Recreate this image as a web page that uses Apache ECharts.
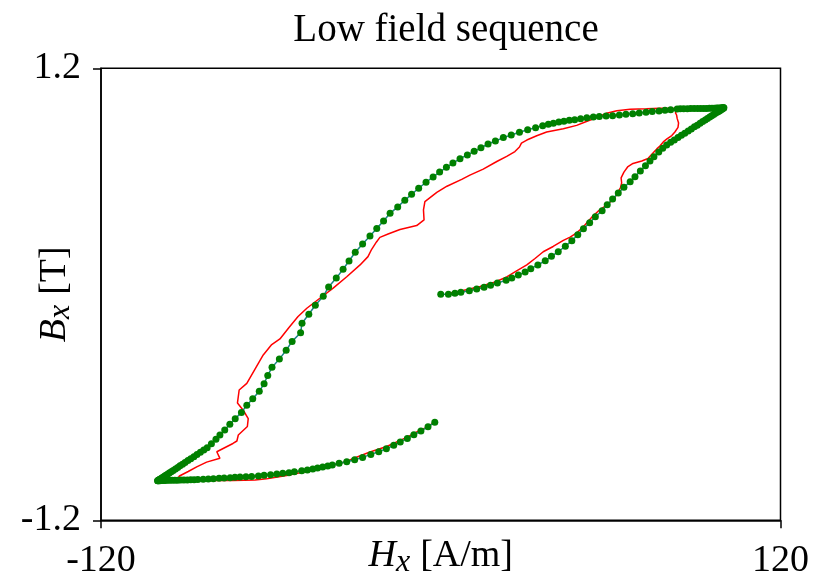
<!DOCTYPE html>
<html><head><meta charset="utf-8">
<script src="https://cdn.jsdelivr.net/npm/echarts@6/dist/echarts.min.js"></script>
<style>html,body{margin:0;padding:0;background:#fff}#c{width:815px;height:583px}</style>
</head><body><div id="c"></div>
<script>
// ---- data (H in A/m, B in T) ----
const titleText = 'Low field sequence';
const xTicks = [-120, 120];
const yTicks = [-1.2, 1.2];

// simulated (green markers): initial rise, upper descending branch, lower rising branch
const simRise = [[0,0.000],[2.7,0.000],[5.0,0.005],[7.1,0.011],[10.1,0.019],[12.7,0.028],[15.3,0.037],[17.6,0.048],[20.0,0.060],[23.1,0.074],[25.1,0.087],[27.4,0.102],[29.8,0.118],[31.8,0.136],[34.3,0.156],[36.9,0.178],[39.1,0.202],[41.5,0.226],[44.0,0.255],[46.3,0.285],[48.4,0.316],[50.4,0.348],[52.6,0.380],[54.6,0.412],[57.0,0.444],[58.8,0.476],[60.7,0.506],[62.7,0.538],[64.7,0.568],[66.9,0.598],[68.6,0.624],[70.5,0.655],[72.3,0.683],[73.9,0.708],[75.3,0.731],[77.0,0.756],[78.4,0.775],[79.8,0.793],[81.2,0.807],[82.5,0.819],[83.8,0.832],[85.0,0.844],[86.2,0.855],[87.4,0.867],[88.5,0.878],[89.6,0.889],[90.6,0.898],[91.6,0.908],[92.5,0.917],[93.4,0.926],[94.2,0.933],[95.0,0.941],[95.7,0.948],[96.4,0.955],[97.0,0.961],[97.6,0.967],[98.1,0.971],[98.5,0.975],[98.9,0.979],[99.3,0.983],[99.6,0.986],[99.8,0.988],[100.0,0.990]];
const simDown = [[99.9,0.990],[99.6,0.990],[99.2,0.990],[98.7,0.989],[98.1,0.989],[97.4,0.989],[96.6,0.988],[95.8,0.988],[94.9,0.988],[93.9,0.987],[92.9,0.987],[91.8,0.987],[90.7,0.986],[89.5,0.986],[88.3,0.986],[87.1,0.985],[85.8,0.985],[84.6,0.985],[83.5,0.984],[81.2,0.980],[79.2,0.977],[77.1,0.973],[74.7,0.970],[72.5,0.966],[70.1,0.963],[67.8,0.959],[65.4,0.956],[63.1,0.952],[60.7,0.948],[58.4,0.947],[56.0,0.944],[53.9,0.941],[51.6,0.938],[49.4,0.932],[47.3,0.927],[45.4,0.924],[43.5,0.919],[41.7,0.915],[39.8,0.908],[38.0,0.903],[36.0,0.895],[33.5,0.885],[30.7,0.874],[27.8,0.860],[24.9,0.846],[22.1,0.832],[19.3,0.814],[16.7,0.798],[14.2,0.778],[11.8,0.759],[9.4,0.740],[6.8,0.720],[4.3,0.697],[2.0,0.674],[-0.4,0.649],[-2.7,0.623],[-5.2,0.595],[-7.8,0.563],[-10.3,0.531],[-12.7,0.499],[-15.2,0.464],[-17.9,0.430],[-20.2,0.389],[-22.6,0.350],[-25.0,0.310],[-27.6,0.267],[-30.2,0.223],[-32.4,0.177],[-34.5,0.133],[-36.9,0.086],[-39.6,0.039],[-41.5,-0.011],[-44.3,-0.058],[-46.6,-0.106],[-49.0,-0.154],[-49.5,-0.204],[-52.5,-0.250],[-54.6,-0.297],[-57.0,-0.344],[-59.6,-0.388],[-61.1,-0.431],[-62.4,-0.475],[-64.1,-0.515],[-66.4,-0.554],[-68.5,-0.589],[-70.4,-0.627],[-72.6,-0.661],[-74.5,-0.690],[-76.3,-0.721],[-78.0,-0.747],[-79.4,-0.770],[-81.0,-0.793],[-82.5,-0.815],[-83.7,-0.827],[-84.9,-0.839],[-86.1,-0.851],[-87.2,-0.862],[-88.3,-0.873],[-89.3,-0.883],[-90.3,-0.893],[-91.2,-0.902],[-92.1,-0.911],[-92.9,-0.919],[-93.7,-0.927],[-94.5,-0.935],[-95.2,-0.942],[-95.9,-0.949],[-96.5,-0.955],[-97.1,-0.961],[-97.6,-0.966],[-98.1,-0.971],[-98.5,-0.975],[-98.9,-0.979],[-99.2,-0.982],[-99.5,-0.985],[-99.7,-0.987],[-99.9,-0.989],[-100.0,-0.990]];
const simUp = [[-99.9,-0.990],[-99.6,-0.990],[-99.2,-0.990],[-98.7,-0.989],[-98.1,-0.989],[-97.4,-0.989],[-96.6,-0.988],[-95.8,-0.988],[-94.9,-0.988],[-93.9,-0.987],[-92.9,-0.987],[-91.8,-0.986],[-90.7,-0.986],[-89.5,-0.986],[-88.3,-0.985],[-87.1,-0.985],[-85.8,-0.984],[-83.9,-0.982],[-82.1,-0.981],[-80.3,-0.979],[-78.3,-0.977],[-76.5,-0.976],[-74.4,-0.974],[-72.7,-0.972],[-70.9,-0.970],[-68.8,-0.969],[-66.8,-0.967],[-64.4,-0.965],[-62.4,-0.961],[-60.1,-0.958],[-57.9,-0.954],[-55.8,-0.950],[-53.6,-0.947],[-51.7,-0.942],[-49.1,-0.937],[-47.1,-0.933],[-45.2,-0.928],[-43.5,-0.922],[-41.7,-0.917],[-39.9,-0.912],[-38.3,-0.907],[-35.9,-0.897],[-33.2,-0.889],[-30.4,-0.878],[-27.6,-0.866],[-24.7,-0.850],[-21.9,-0.836],[-19.2,-0.820],[-16.6,-0.802],[-14.3,-0.784],[-11.8,-0.765],[-9.5,-0.746],[-7.0,-0.726],[-4.5,-0.703],[-2.1,-0.680]];

// measured (red line)
const measRise = [[2.6,0.004],[7.9,0.020],[13.9,0.041],[19.2,0.065],[23.3,0.092],[26.8,0.124],[30.4,0.156],[33.3,0.190],[36.2,0.226],[39.7,0.254],[43.3,0.286],[45.7,0.304],[48.0,0.326],[50.3,0.357],[52.0,0.387],[53.9,0.418],[55.5,0.440],[57.4,0.461],[59.1,0.482],[61.0,0.503],[62.3,0.533],[63.5,0.567],[63.9,0.591],[63.7,0.618],[64.7,0.649],[66.0,0.676],[67.9,0.695],[71.0,0.708],[73.2,0.721],[74.8,0.748],[76.3,0.772],[77.4,0.787],[78.6,0.809],[79.9,0.825],[81.6,0.843],[82.7,0.862],[83.8,0.886],[84.0,0.910],[83.5,0.934],[83.3,0.952],[82.9,0.963],[83.3,0.976],[83.1,0.987]];
const measDown = [[77.4,0.988],[72.7,0.985],[66.9,0.982],[62.2,0.975],[58.6,0.961],[55.1,0.939],[51.0,0.915],[48.0,0.897],[43.3,0.879],[37.4,0.862],[33.9,0.842],[30.4,0.819],[28.5,0.803],[27.8,0.782],[26.2,0.758],[23.3,0.732],[19.8,0.705],[15.0,0.665],[10.3,0.633],[7.4,0.610],[2.2,0.574],[-1.4,0.541],[-5.6,0.492],[-6.1,0.448],[-5.9,0.395],[-8.5,0.365],[-14.4,0.344],[-18.6,0.320],[-21.5,0.302],[-22.7,0.278],[-24.4,0.239],[-25.7,0.200],[-28.5,0.156],[-33.2,0.093],[-38.0,0.033],[-42.7,-0.021],[-47.3,-0.074],[-50.4,-0.118],[-53.6,-0.176],[-56.8,-0.237],[-59.7,-0.267],[-62.7,-0.322],[-65.6,-0.397],[-68.5,-0.473],[-71.2,-0.508],[-71.8,-0.577],[-69.7,-0.617],[-68.0,-0.660],[-68.3,-0.702],[-71.5,-0.747],[-72.0,-0.779],[-73.4,-0.792],[-79.1,-0.836],[-78.0,-0.871],[-82.7,-0.891],[-86.2,-0.916],[-89.2,-0.941],[-92.3,-0.965],[-92.8,-0.976]];
const measUp = [[-92.1,-0.985],[-85.0,-0.989],[-73.3,-0.989],[-65.6,-0.986],[-61.5,-0.980],[-54.4,-0.962],[-43.8,-0.929],[-33.2,-0.888],[-30.9,-0.872],[-25.0,-0.837],[-19.1,-0.808],[-12.0,-0.760],[-7.3,-0.721],[-5.0,-0.707],[-1.4,-0.671]];

const simulated = simRise.concat(simDown, simUp);
const measured = measRise.concat(measDown, measUp);

const FONT = '"Liberation Serif","Times New Roman",serif';
const richName = {
  i: {fontFamily: FONT, fontStyle: 'italic', fontSize: 38, lineHeight: 44, color: '#000'},
  s: {fontFamily: FONT, fontStyle: 'italic', fontSize: 32, lineHeight: 30, verticalAlign: 'bottom', padding: [0, 10, 0, 0], color: '#000'},
  n: {fontFamily: FONT, fontSize: 38, lineHeight: 44, color: '#000'}
};
const chart = echarts.init(document.getElementById('c'), null, {renderer: 'canvas'});
chart.setOption({
  animation: false,
  backgroundColor: '#fff',
  title: {
    text: titleText, left: 441, top: 6, textAlign: 'center',
    textStyle: {fontFamily: FONT, fontSize: 39, fontWeight: 'normal', color: '#000'}
  },
  grid: {left: 101, right: 34.5, top: 68.3, bottom: 62.7, show: true, borderColor: '#000', borderWidth: 1.5,
         containLabel: false, outerBoundsMode: 'none'},
  xAxis: {
    type: 'value', min: -120, max: 120,
    axisLine: {show: true, onZero: false, lineStyle: {color: '#000', width: 1.5}},
    axisTick: {show: true, length: 8, customValues: xTicks, lineStyle: {color: '#000', width: 1.5}},
    splitLine: {show: false},
    axisLabel: {customValues: xTicks, margin: 22, fontFamily: FONT, fontSize: 38, color: '#000'},
    name: '{i|H}{s|x}{n|[A/m]}', nameLocation: 'middle', nameGap: 14, nameMoveOverlap: false,
    nameTextStyle: {color: '#000', verticalAlign: 'top', rich: richName}
  },
  yAxis: {
    type: 'value', min: -1.2, max: 1.2,
    axisLine: {show: true, onZero: false, lineStyle: {color: '#000', width: 1.5}},
    axisTick: {show: true, length: 8, customValues: yTicks, lineStyle: {color: '#000', width: 1.5}},
    splitLine: {show: false},
    axisLabel: {customValues: yTicks, margin: 20, fontFamily: FONT, fontSize: 38, color: '#000'},
    name: '{i|B}{s|x}{n|[T]}', nameLocation: 'middle', nameGap: 24, nameRotate: 90, nameMoveOverlap: false,
    nameTextStyle: {color: '#000', rich: richName}
  },
  series: [
    {
      name: 'measured', type: 'line', data: measured, showSymbol: false, smooth: false,
      lineStyle: {color: '#ff0000', width: 1.5}, z: 2
    },
    {
      name: 'simulated', type: 'line', data: simulated, symbol: 'circle', symbolSize: 7,
      showSymbol: true, smooth: false,
      itemStyle: {color: '#008000', borderWidth: 0},
      lineStyle: {color: '#1a8585', width: 1.5}, z: 3
    }
  ]
});
</script>
</body></html>
